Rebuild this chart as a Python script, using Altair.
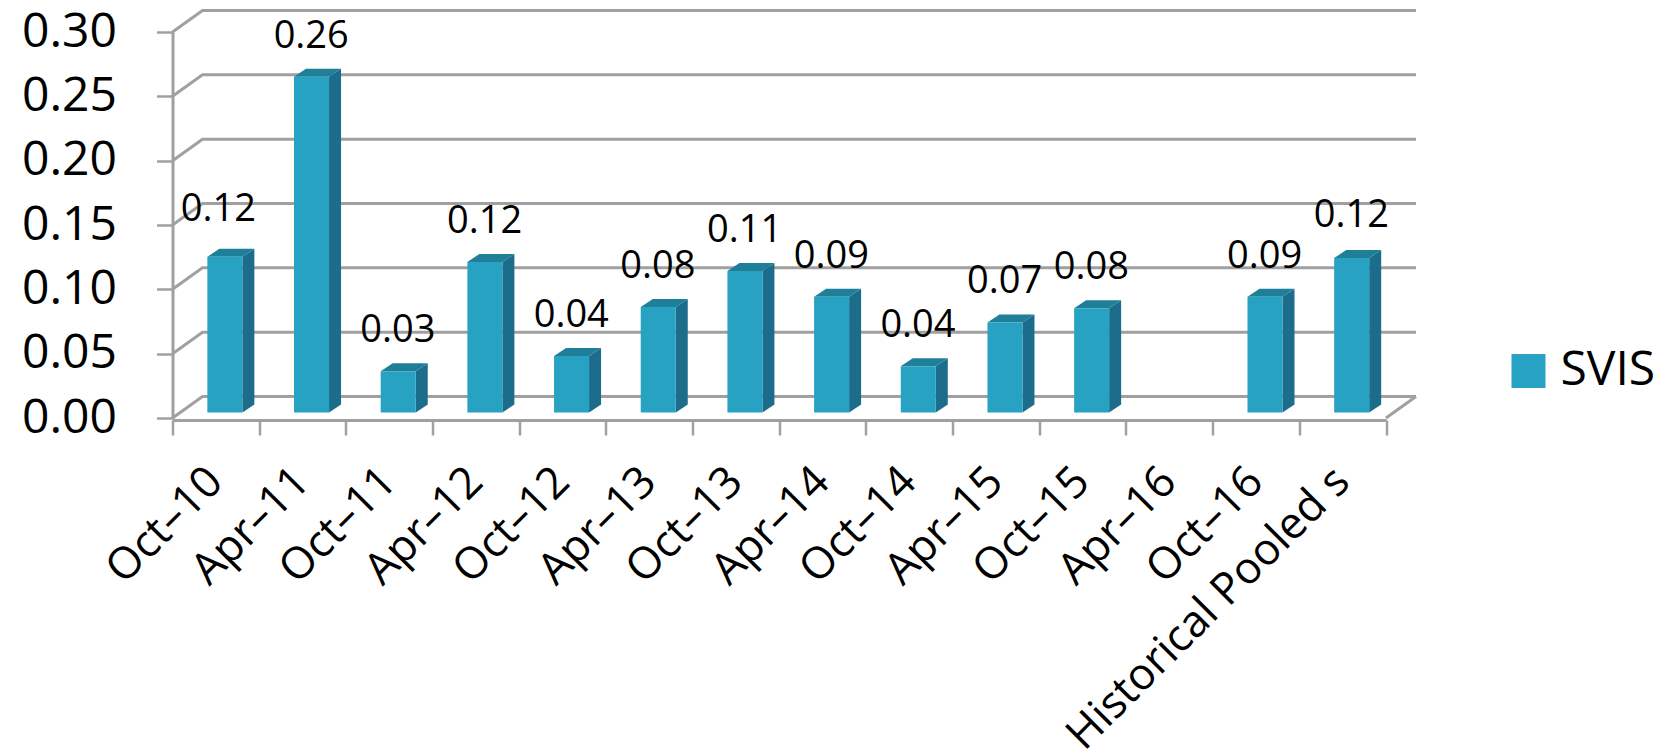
import altair as alt
import pandas as pd

categories = ["Oct–10", "Apr–11", "Oct–11", "Apr–12", "Oct–12", "Apr–13", "Oct–13",
              "Apr–14", "Oct–14", "Apr–15", "Oct–15", "Apr–16", "Oct–16", "Historical Pooled s"]
values = [0.121, 0.261, 0.032, 0.117, 0.044, 0.082, 0.110, 0.090, 0.036, 0.070, 0.081, None, 0.090, 0.120]
series_name = "SVIS"
y_ticks = [0.00, 0.05, 0.10, 0.15, 0.20, 0.25, 0.30]

FONT = "Open Sans"
FRONT, SIDE, TOP = "#28a2c3", "#1c6c8c", "#1f7f99"
GRID = "#a0a0a0"
PW, PH = 1213.5, 386.0
N = len(categories)
PX_X = N / PW            # index units per pixel
PX_Y = 0.30 / PH         # value units per pixel
WALL_X, WALL_Y = 30 * PX_X, 21.5 * PX_Y
LIFT = 5.5 * PX_Y
BAR_L, BAR_R = 0.402, 0.806
DEP_X, DEP_Y = 12 * PX_X, 8 * PX_Y

xq = alt.X("x:Q", axis=None, scale=alt.Scale(domain=[0, N], nice=False, zero=False))
yq = alt.Y("y:Q", title=None, scale=alt.Scale(domain=[0, 0.30], nice=False),
           axis=alt.Axis(values=y_ticks, format=".2f", grid=False, domainColor=GRID, domainWidth=3,
                         tickColor=GRID, tickWidth=2.5, tickSize=16, labelFont=FONT, labelFontSize=48,
                         labelColor="#000000", labelPadding=40, labelFlush=False, labelOverlap=False))

grid_rows, side_rows, top_rows, front_rows = [], [], [], []
for t in y_ticks:
    for x, y in [(0, t), (WALL_X, t + WALL_Y), (N + WALL_X, t + WALL_Y)]:
        grid_rows.append({"g": t, "x": x, "y": y})
grid_rows_floor = [{"g": -1, "x": N, "y": 0}, {"g": -1, "x": N + WALL_X, "y": WALL_Y}]

for i, v in enumerate(values):
    if v is None:
        continue
    x0, x1 = i + BAR_L, i + BAR_R
    top = v + LIFT
    front_rows.append({"x": x0, "x2": x1, "y": top, "y2": LIFT, "series": series_name})
    side_rows += [{"b": i, "x": x1, "y": top, "y2": LIFT},
                  {"b": i, "x": x1 + DEP_X, "y": top + DEP_Y, "y2": LIFT + DEP_Y}]
    top_rows += [{"b": i, "x": x0, "y": top, "y2": top},
                 {"b": i, "x": x0 + DEP_X, "y": top + DEP_Y, "y2": top},
                 {"b": i, "x": x1, "y": top + DEP_Y, "y2": top},
                 {"b": i, "x": x1 + DEP_X, "y": top + DEP_Y, "y2": top + DEP_Y}]

grid = alt.Chart(pd.DataFrame(grid_rows + grid_rows_floor)).mark_line(color=GRID, strokeWidth=3).encode(
    x=xq, y=yq, detail="g:N")
side = alt.Chart(pd.DataFrame(side_rows)).mark_area(color=SIDE).encode(
    x=xq, y=yq, y2="y2:Q", detail="b:N")
topf = alt.Chart(pd.DataFrame(top_rows)).mark_area(color=TOP).encode(
    x=xq, y=yq, y2="y2:Q", detail="b:N")
front = alt.Chart(pd.DataFrame(front_rows)).mark_rect().encode(
    x=xq, x2="x2:Q", y=yq, y2="y2:Q",
    color=alt.Color("series:N", title=None, scale=alt.Scale(range=[FRONT]),
                    legend=alt.Legend(orient="none", legendX=1332, legendY=315, symbolType="square",
                                      symbolSize=1156, symbolStrokeWidth=0, labelFont=FONT, labelFontSize=48,
                                      labelColor="#000000", labelOffset=8, padding=0)))

x_scale = alt.Scale(type="band", domain=categories, paddingInner=0, paddingOuter=0)
x_axis = alt.Axis(labelAngle=-45, labelAlign="right", labelBaseline="top", labelFont=FONT,
                  labelFontSize=44, labelColor="#000000", labelPadding=24, labelOffset=-16,
                  labelOverlap=False, labelLimit=0, tickBand="extent", domainColor=GRID, domainWidth=3,
                  tickColor=GRID, tickWidth=2.5, tickSize=15, offset=2)
df = pd.DataFrame({"cat": categories, "value": values})
df["y"] = df["value"]


def labels(test, dx, dy, axis=None):
    xn = alt.X("cat:N", title=None, sort=categories, scale=x_scale, axis=axis)
    return alt.Chart(df).transform_filter(test).mark_text(
        font=FONT, fontSize=38, color="#000000", dx=dx, dy=dy, baseline="alphabetic", align="center"
    ).encode(x=xn, y=yq, text=alt.Text("value:Q", format=".2f"))


valid = "isValid(datum.value)"
first, last = categories[0], categories[-1]
lab_mid = labels(f"{valid} && datum.cat != '{first}' && datum.cat != '{last}'", 8.7, -34.5, x_axis)
lab_first = labels(f"datum.cat == '{first}'", 2.5, -41.7)
lab_last = labels(f"datum.cat == '{last}'", 8.7, -36.5)

chart = alt.layer(grid, side, topf, front, lab_mid, lab_first, lab_last).resolve_scale(
    x="independent"
).properties(
    width=PW, height=PH, autosize="none",
    padding={"left": 164.5, "top": 24, "right": 277, "bottom": 332},
    background="#ffffff",
).configure_view(stroke=None)

chart.save("out.html", embed_options={"renderer": "svg", "actions": False})
